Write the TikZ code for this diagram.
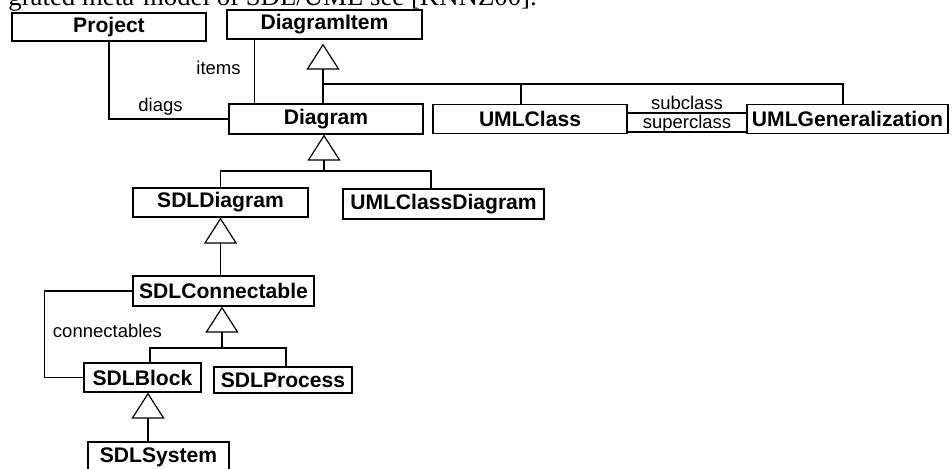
\documentclass[tikz,border=0pt]{standalone}
\usepackage{fontspec}
\setmainfont{Liberation Sans}
\newfontfamily\bodyserif{Liberation Serif}
\usetikzlibrary{arrows.meta}
\usetikzlibrary{calc}

\tikzset{
  cls/.style={draw, line width=0.6pt, inner sep=0pt, font=\fontsize{10.55}{12}\selectfont\bfseries},
  lbl/.style={inner sep=0pt, font=\fontsize{9.25}{11}\selectfont},
  gen/.style={line width=0.6pt, -{Triangle[open, length=13pt, width=16.5pt]}},
  assoc/.style={line width=0.6pt}
}

\begin{document}
\begin{tikzpicture}[x=0.5pt, y=-0.5pt]	%SDL/UML meta-model
\useasboundingbox (0,0) rectangle (952,468);
%caption line (cut off at the top)
\node[anchor=base west, inner sep=0pt, font=\bodyserif\fontsize{13.4}{16}\selectfont] (caption) at (8,5) {grated meta-model of SDL/UML see [KNNZ00].};

%classes
\node[cls, minimum width=97pt,   minimum height=14pt]   (Project)           at (109,27)     {Project};
\node[cls, minimum width=97.5pt, minimum height=14.5pt] (DiagramItem)       at (324.5,24.5) {DiagramItem};
\node[cls, minimum width=97pt,   minimum height=15pt]   (Diagram)           at (326,119)    {Diagram};
\node[cls, minimum width=97pt,   minimum height=14.5pt] (UMLClass)          at (530,119)    {UMLClass};
\node[cls, minimum width=100.5pt,minimum height=14.5pt] (UMLGeneralization) at (847.5,119)  {UMLGeneralization};
\node[cls, minimum width=87.5pt, minimum height=14.5pt] (SDLDiagram)        at (220.5,202.5){SDLDiagram};
\node[cls, minimum width=100.5pt,minimum height=15pt]   (UMLClassDiagram)   at (443.5,204)  {UMLClassDiagram};
\node[cls, minimum width=90.5pt, minimum height=15pt]   (SDLConnectable)    at (223.5,291)  {SDLConnectable};
\node[cls, minimum width=58.5pt, minimum height=14.5pt] (SDLBlock)          at (142.5,377.5){SDLBlock};
\node[cls, minimum width=69pt,   minimum height=13pt]   (SDLProcess)        at (283,380)    {SDLProcess};
\node[cls, minimum width=70.5pt, minimum height=15pt]   (SDLSystem)         at (158.5,457)  {SDLSystem};

%role labels
\node[lbl] (itemsLbl) at (218.5,68)  {items};
\node[lbl] (diagsLbl) at (160.5,106.5) {diags};
\node[lbl] (subLbl)   at (687,103)   {subclass};
\node[lbl] (superLbl) at (687,124)   {superclass};
\node[lbl] (connLbl)  at (107.5,331) {connectables};

%bus points
\coordinate (itemBus) at (323,84);
\coordinate (diagBus) at (324,171);
\coordinate (connBus) at (222,348);

%generalisations
\draw[gen, shorten >=2pt] (Diagram.north -| itemBus) -- (DiagramItem.south -| itemBus);	%Diagram--DiagramItem
\draw[assoc] (itemBus) -| ($(UMLClass.north)+(-9,0)$);			%UMLClass
\draw[assoc] (itemBus) -| ($(UMLGeneralization.north)+(-4.5,0)$);	%UMLGeneralization
%
\draw[gen] (diagBus) -- (Diagram.south -| diagBus);				%..--Diagram
\draw[assoc] (diagBus) -| (SDLDiagram.north);
\draw[assoc] (diagBus) -| ($(UMLClassDiagram.north)+(-12.5,0)$);
%
\draw[gen] (SDLConnectable.north -| SDLDiagram.south) -- (SDLDiagram.south);
%
\draw[gen] (connBus) -- (SDLConnectable.south -| connBus);		%..--SDLConnectable
\draw[assoc] (connBus) -| ($(SDLBlock.north)+(7.5,0)$);
\draw[assoc] (connBus) -| ($(SDLProcess.north)+(3,0)$);
%
\draw[gen] ($(SDLSystem.north)+(-10.5,0)$) -- ($(SDLBlock.south)+(5.5,0)$);	%SDLSystem--SDLBlock

%associations
\draw[assoc] (Project) |- (Diagram);								%diags
\draw[assoc] ($(DiagramItem.south west)+(28,0)$) -- ($(Diagram.north west)+(26,0)$);	%items
\draw[assoc] ($(UMLClass.east)+(0,-6)$) -- ($(UMLGeneralization.west)+(0,-6)$);		%subclass
\draw[assoc] ($(UMLClass.east)+(0,13)$) -- ($(UMLGeneralization.west)+(0,13)$);		%superclass
\draw[assoc] (SDLConnectable.west) -- ++(-88,0) |- (SDLBlock.west);	%connectables
\end{tikzpicture}
\end{document}
